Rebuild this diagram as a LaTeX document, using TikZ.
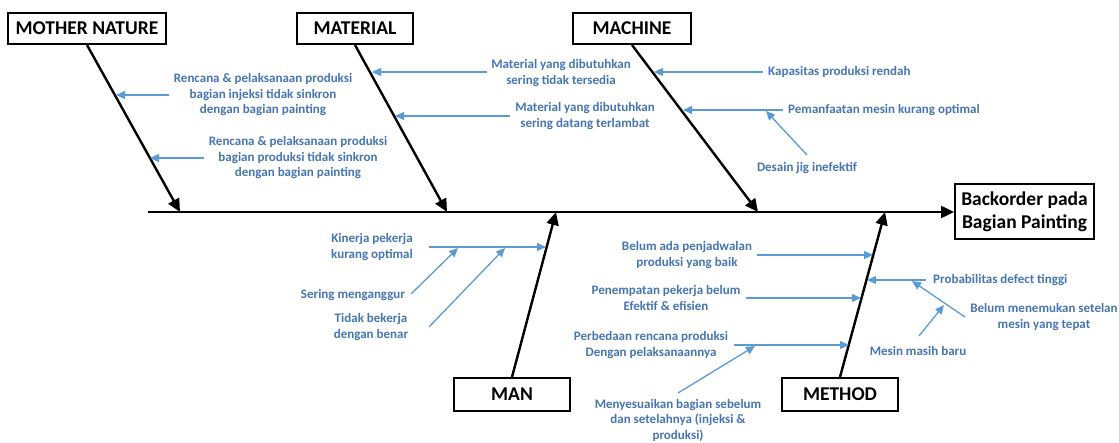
\documentclass[tikz,border=0pt]{standalone}
\usepackage{fontspec}
\setmainfont{Carlito}
\usetikzlibrary{arrows.meta}
\definecolor{txtblue}{HTML}{4675B2}
\definecolor{arrblue}{HTML}{5B9BD5}
\begin{document}
\begin{tikzpicture}[x=1pt,y=-1pt,
  catbox/.style={draw=black,line width=2pt,fill=white,inner sep=0pt,font=\fontsize{19.5}{23}\selectfont\bfseries},
  cause/.style={text=txtblue,align=center,inner sep=0pt,font=\fontsize{13}{15.5}\selectfont\bfseries},
  bone/.style={draw=black,line width=2.4pt,-{Triangle[length=13pt,width=12pt]}},
  sub/.style={draw=arrblue,line width=1.3pt,-{Triangle[length=9pt,width=8pt]}}]
\useasboundingbox (0,0) rectangle (1119,443);
% category boxes
\node[catbox,minimum width=158pt,minimum height=31pt] (mother) at (87,28.5) {MOTHER NATURE};
\node[catbox,minimum width=116pt,minimum height=31pt] (material) at (355,28.5) {MATERIAL};
\node[catbox,minimum width=118pt,minimum height=31pt] (machine) at (632,28.5) {MACHINE};
\node[catbox,minimum width=116pt,minimum height=33pt] (man) at (512,394.5) {MAN};
\node[catbox,minimum width=116pt,minimum height=33pt] (method) at (840,394.5) {METHOD};
\node[catbox,minimum width=139pt,minimum height=55pt,align=center] (effect) at (1024.5,212) {Backorder pada\\Bagian Painting};
% spine and bones
\coordinate (spinestart) at (148,212);
\draw[bone] (spinestart) -- (effect.west);
\coordinate (mtip) at (180,212);
\coordinate (matip) at (447,212);
\coordinate (mctip) at (758,212);
\coordinate (mantip) at (556,212);
\coordinate (metip) at (885,212);
\draw[bone] (mother.south) -- (mtip);
\draw[bone] (material.south) -- (matip);
\draw[bone] (machine.south) -- (mctip);
\draw[bone] (man.north) -- (mantip);
\draw[bone] (method.north) -- (metip);
% cause texts
\node[cause] (t1) at (263,95) {Rencana \& pelaksanaan produksi\\bagian injeksi tidak sinkron\\dengan bagian painting};
\node[cause] (t2) at (298,158) {Rencana \& pelaksanaan produksi\\bagian produksi tidak sinkron\\dengan bagian painting};
\node[cause] (t3) at (561,73) {Material yang dibutuhkan\\sering tidak tersedia};
\node[cause] (t4) at (585,116) {Material yang dibutuhkan\\sering datang terlambat};
\node[cause,anchor=west] (t5) at (768,72) {Kapasitas produksi rendah};
\node[cause,anchor=west] (t6) at (788,110) {Pemanfaatan mesin kurang optimal};
\node[cause] (t7) at (807,168) {Desain jig inefektif};
\node[cause] (t8) at (372,247) {Kinerja pekerja\\kurang optimal};
\node[cause] (t9) at (353,295) {Sering menganggur};
\node[cause] (t10) at (371,327) {Tidak bekerja\\dengan benar};
\node[cause] (t11) at (687,255) {Belum ada penjadwalan\\produksi yang baik};
\node[cause] (t12) at (666,298) {Penempatan pekerja belum\\Efektif \& efisien};
\node[cause] (t13) at (651,345) {Perbedaan rencana produksi\\Dengan pelaksanaannya};
\node[cause] (t14) at (678,420) {Menyesuaikan bagian sebelum\\dan setelahnya (injeksi \&\\produksi)};
\node[cause,anchor=west] (t15) at (933,280) {Probabilitas defect tinggi};
\node[cause] (t16) at (1044,317) {Belum menemukan setelan\\mesin yang tepat};
\node[cause] (t17) at (918,351) {Mesin masih baru};
% arrow coordinates
\coordinate (s1) at (169,95);   \coordinate (e1) at (116,95);
\coordinate (s2) at (204,158);  \coordinate (e2) at (150,158);
\coordinate (s3) at (487,72);   \coordinate (e3) at (372,72);
\coordinate (s4) at (510,116);  \coordinate (e4) at (395,116);
\coordinate (s5) at (763,72);   \coordinate (e5) at (654,72);
\coordinate (s6) at (783,110);  \coordinate (e6) at (683,110);
\coordinate (s7) at (807,155);  \coordinate (e7) at (766,111);
\coordinate (s8) at (429,247);  \coordinate (e8) at (546,247);
\coordinate (s9) at (411,294);  \coordinate (e9) at (458,248);
\coordinate (s10) at (429,327); \coordinate (e10) at (505,248);
\coordinate (s11) at (757,255); \coordinate (e11) at (873,255);
\coordinate (s12) at (746,298); \coordinate (e12) at (861,298);
\coordinate (s13) at (734,345); \coordinate (e13) at (849,345);
\coordinate (s14) at (678,393); \coordinate (e14) at (755,346);
\coordinate (s15) at (926,280); \coordinate (e15) at (867,280);
\coordinate (s16) at (965,317); \coordinate (e16) at (912,281);
\coordinate (s17) at (919,336); \coordinate (e17) at (944,305);
\foreach \i in {1,...,17} {\draw[sub] (s\i) -- (e\i);}
\end{tikzpicture}
\end{document}
